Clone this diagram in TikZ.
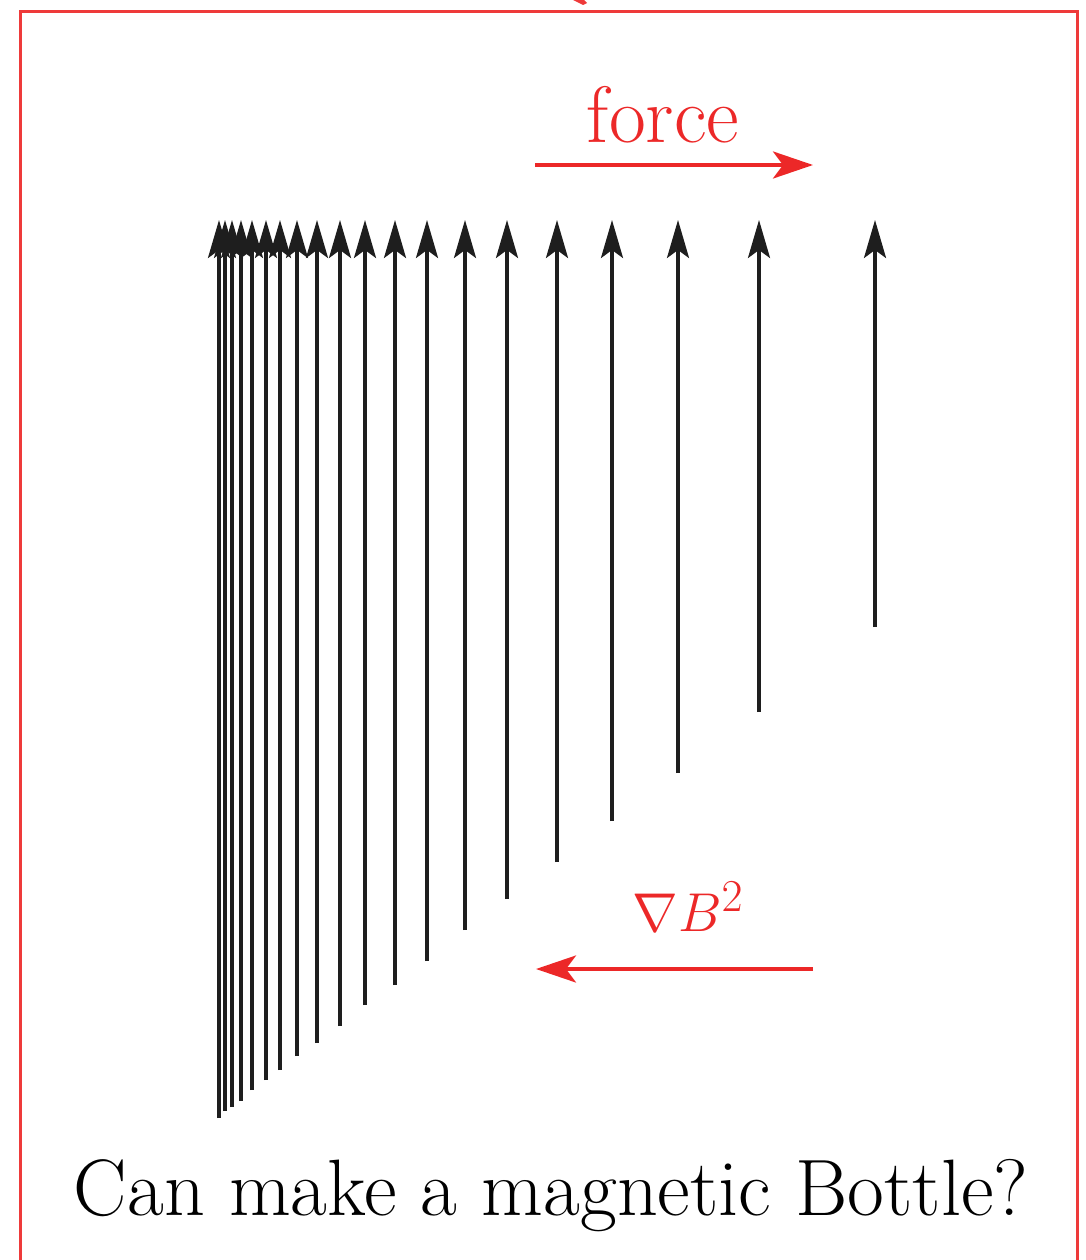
\documentclass[tikz,border=0pt]{standalone}
\usetikzlibrary{arrows.meta}
\definecolor{myred}{RGB}{236,40,40}
\definecolor{framered}{RGB}{238,58,58}
\definecolor{lineblack}{RGB}{30,30,30}
\begin{document}
\begin{tikzpicture}[x=1pt,y=-1pt,
  fieldline/.style={draw=lineblack,line width=3.2pt,-{Stealth[length=38pt,width=22pt,inset=8pt]}},
  redarrow/.style={draw=myred,line width=4pt,-{Stealth[length=40pt,width=27pt,inset=10pt]}},
  redlabel/.style={text=myred,inner sep=0pt,anchor=base,font=\fontsize{80}{96}\selectfont}]
\useasboundingbox (0,0) rectangle (1085,1260);
% frame
\draw[framered,line width=3pt] (20,1262) -- (20,12) -- (1077,12) -- (1077,1262);
\fill[framered] (573,0) -- (584,0) -- (587,3) -- (583,5) -- cycle;
% field lines
\foreach \i/\x/\yb in {1/219/1118,2/225/1111,3/232/1107,4/241/1101,5/252/1090,6/266/1080,7/280/1070,8/297/1056,9/317/1043,10/340/1026,11/365/1005,12/395/985,13/427/961,14/465/930,15/507/899,16/557/862,17/612/821,18/678/773,19/759/712,20/875/627}{
  \coordinate (b\i) at (\x,\yb);
  \coordinate (t\i) at (\x,220);
  \draw[fieldline] (b\i) -- (t\i);
}
% force arrow
\coordinate (fs) at (535,165);
\coordinate (fe) at (813,165);
\draw[redarrow] (fs) -- (fe);
\node[redlabel] (force) at (663,143) {force};
% gradient arrow
\coordinate (gs) at (813,969);
\coordinate (ge) at (536,969);
\draw[redarrow] (gs) -- (ge);
\node[text=myred,inner sep=0pt,anchor=base,font=\fontsize{24.88}{30}\selectfont,scale=2.2] (grad) at (688,931) {$\nabla B^2$};
% caption
\node[inner sep=0pt,anchor=base,font=\fontsize{80}{96}\selectfont] (cap) at (551,1215) {Can make a magnetic Bottle?};
\end{tikzpicture}
\end{document}
